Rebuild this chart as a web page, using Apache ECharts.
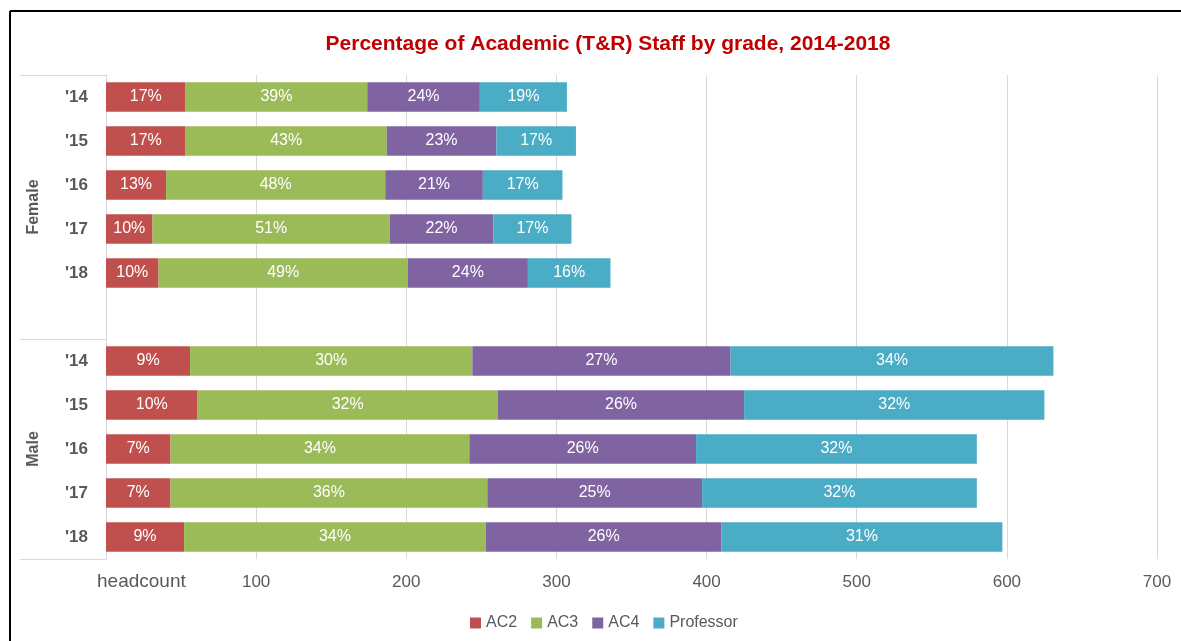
<!DOCTYPE html>
<html>
<head>
<meta charset="utf-8">
<script src="https://cdn.jsdelivr.net/npm/echarts@6/dist/echarts.min.js"></script>
<style>
html,body{margin:0;padding:0;background:#fff;}
#chart{width:1181px;height:641px;}
</style>
</head>
<body>
<div id="chart"></div>
<script>
const titleText = 'Percentage of Academic (T&R) Staff by grade, 2014-2018';
const categories = ["'14", "'15", "'16", "'17", "'18", "", "'14", "'15", "'16", "'17", "'18"];
const groups = ['Female', 'Male'];
const groupRanges = [[0, 5], [6, 10]]; // category index span of each group
const seriesNames = ['AC2', 'AC3', 'AC4', 'Professor'];
const AC2 = [53, 53, 40, 31, 35, null, 56, 61, 43, 43, 52];
const AC3 = [121, 134, 146, 158, 166, null, 188, 200, 199, 211, 201];
const AC4 = [75, 73, 65, 69, 80, null, 172, 164, 151, 143, 157];
const Professor = [58, 53, 53, 52, 55, null, 215, 200, 187, 183, 187];
const xTicks = [0, 100, 200, 300, 400, 500, 600, 700];
const xAxisTitle = 'headcount';
const colors = ['#C0504D', '#9BBB59', '#8064A2', '#4BACC6'];

const allSeries = [AC2, AC3, AC4, Professor];
const totals = categories.map((c, i) => allSeries.reduce((s, arr) => s + (arr[i] || 0), 0));

const FONT = '"Liberation Sans", Arial, sans-serif';
const GRAY = '#595959';

const chart = echarts.init(document.getElementById('chart'), null, {renderer: 'canvas'});

const option = {
  animation: false,
  backgroundColor: '#ffffff',
  title: {
    text: titleText,
    left: 603,
    textAlign: 'center',
    top: 29,
    textStyle: {color: '#C00000', fontSize: 21, fontWeight: 'bold', fontFamily: FONT}
  },
  legend: {
    data: seriesNames,
    bottom: 5,
    left: 465,
    itemWidth: 11,
    itemHeight: 11,
    itemGap: 14,
    icon: 'rect',
    textStyle: {color: GRAY, fontSize: 16, fontFamily: FONT}
  },
  grid: {left: 106, right: 24, top: 75, bottom: 82, containLabel: false},
  xAxis: {
    type: 'value',
    min: xTicks[0],
    max: xTicks[xTicks.length - 1],
    interval: xTicks[1] - xTicks[0],
    axisLine: {show: false},
    axisTick: {show: false},
    splitLine: {show: true, lineStyle: {color: '#D9D9D9', width: 1}},
    axisLabel: {
      color: GRAY, fontSize: 17, fontFamily: FONT, margin: 15,
      formatter: v => (v === 0 ? '' : String(v))
    }
  },
  yAxis: {
    type: 'category',
    data: categories,
    inverse: true,
    axisLine: {show: true, lineStyle: {color: '#D9D9D9'}},
    axisTick: {show: false},
    axisLabel: {color: GRAY, fontSize: 17, fontWeight: 'bold', fontFamily: FONT, margin: 18}
  },
  series: seriesNames.map((name, k) => ({
    name: name,
    type: 'bar',
    stack: 'total',
    data: allSeries[k],
    barCategoryGap: '33%',
    itemStyle: {color: colors[k]},
    label: {
      show: true,
      position: 'inside',
      color: '#ffffff',
      fontSize: 16,
      fontFamily: FONT,
      formatter: p => (p.value == null ? '' : Math.round(p.value / totals[p.dataIndex] * 100) + '%')
    }
  }))
};
chart.setOption(option);

// decorations positioned from the chart's own scales
const x0 = chart.convertToPixel({xAxisIndex: 0}, 0);
const band = chart.convertToPixel({yAxisIndex: 0}, 1) - chart.convertToPixel({yAxisIndex: 0}, 0);
const yOf = i => chart.convertToPixel({yAxisIndex: 0}, i);
const yBottomPx = 641 - 82;
const graphics = [];
// borders
graphics.push({type: 'line', shape: {x1: 10, y1: 11, x2: 1181, y2: 11}, style: {stroke: '#000', lineWidth: 2}});
graphics.push({type: 'line', shape: {x1: 10, y1: 11, x2: 10, y2: 641}, style: {stroke: '#000', lineWidth: 2}});
// group separators
const sepIdx = [0, groupRanges[1][0]];
sepIdx.forEach(i => {
  const y = Math.round(yOf(i) - band / 2) + 0.5;
  graphics.push({type: 'line', shape: {x1: 20, y1: y, x2: x0, y2: y}, style: {stroke: '#D9D9D9', lineWidth: 1}});
});
graphics.push({type: 'line', shape: {x1: 20, y1: yBottomPx + 0.5, x2: x0, y2: yBottomPx + 0.5}, style: {stroke: '#D9D9D9', lineWidth: 1}});
// group labels
const groupSpans = [[0, groupRanges[1][0] - 1], groupRanges[1]];
groups.forEach((g, gi) => {
  const yc = (yOf(groupSpans[gi][0]) + yOf(groupSpans[gi][1])) / 2;
  graphics.push({
    type: 'text', x: 34, y: yc, rotation: Math.PI / 2,
    style: {text: g, fill: GRAY, font: 'bold 16px ' + FONT, textAlign: 'center', textVerticalAlign: 'middle'}
  });
});
// axis title at the zero tick
graphics.push({
  type: 'text', x: x0 - 9, y: yBottomPx + 23,
  style: {text: xAxisTitle, fill: GRAY, font: '19px ' + FONT, textAlign: 'left', textVerticalAlign: 'middle'}
});
chart.setOption({graphic: graphics});
</script>
</body>
</html>
